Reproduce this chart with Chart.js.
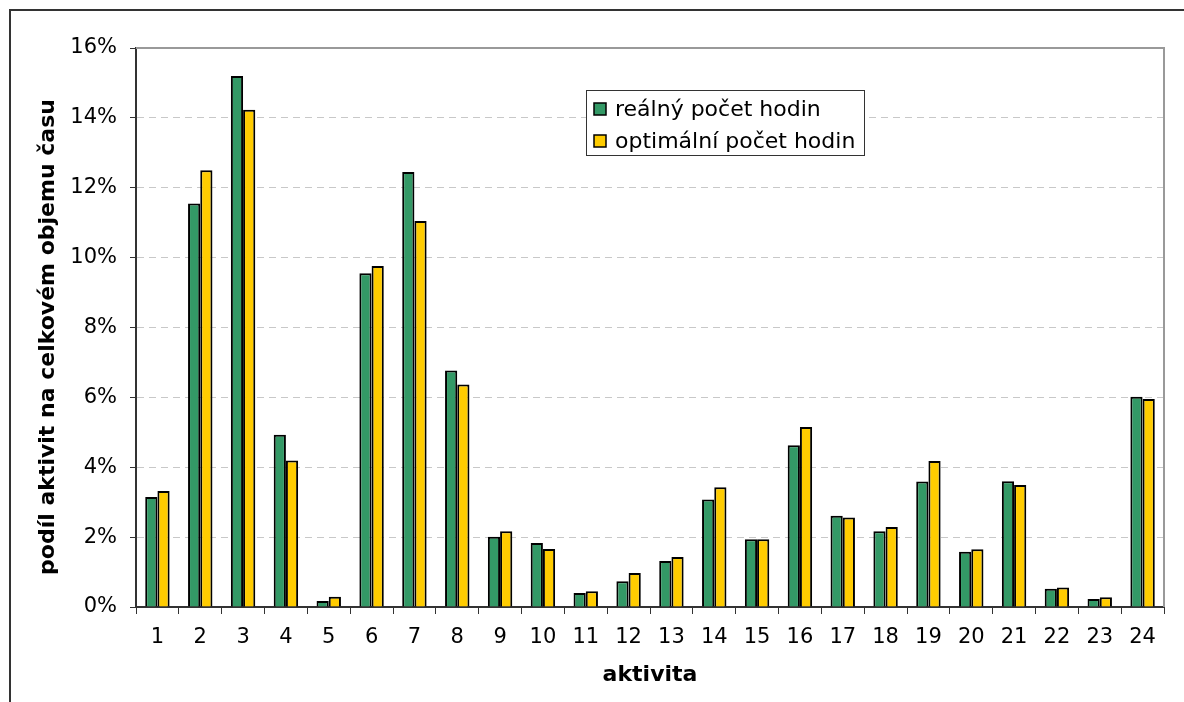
<!DOCTYPE html>
<html>
<head>
<meta charset="utf-8">
<script src="https://cdn.jsdelivr.net/npm/chart.js@4/dist/chart.umd.min.js"></script>
<style>
  html, body { margin: 0; padding: 0; background: #fff; }
  #wrap { width: 1184px; height: 702px; position: relative; }
</style>
</head>
<body>
<div id="wrap"><canvas id="chart" width="1184" height="702"></canvas></div>
<script>
// data (% of total time)
const activities = ['1', '2', '3', '4', '5', '6', '7', '8', '9', '10', '11', '12',
    '13', '14', '15', '16', '17', '18', '19', '20', '21', '22', '23', '24'];
const realHours = [3.15, 11.55, 15.2, 4.93, 0.17, 9.55, 12.45, 6.77, 2.01, 1.83, 0.4, 0.74,
    1.32, 3.08, 1.94, 4.63, 2.61, 2.17, 3.59, 1.58, 3.6, 0.52, 0.23, 6.02];
const optimalHours = [3.32, 12.5, 14.23, 4.19, 0.29, 9.76, 11.05, 6.37, 2.17, 1.66, 0.45, 0.97,
    1.43, 3.43, 1.94, 5.15, 2.56, 2.29, 4.18, 1.65, 3.49, 0.56, 0.28, 5.95];
const seriesNames = ['reálný počet hodin', 'optimální počet hodin'];
const yTitle = 'podíl aktivit na celkovém objemu času';
const yMax = 16;
const yStep = 2;

const FONT = 'DejaVu Sans, Verdana, sans-serif';

// white background, outer frame, plot border and the y title
const framePlugin = {
    id: 'frame',
    beforeDraw(chart) {
        const c = chart.ctx;
        c.save();
        c.fillStyle = '#fff';
        c.fillRect(0, 0, chart.width, chart.height);
        c.strokeStyle = '#333';
        c.lineWidth = 2;
        c.beginPath();
        c.moveTo(10, chart.height);
        c.lineTo(10, 10);
        c.lineTo(chart.width, 10);
        c.stroke();
        // y axis title, a bit below the plot centre like the original
        c.translate(48, 337);
        c.rotate(-Math.PI / 2);
        c.font = 'bold 22px ' + FONT;
        c.fillStyle = '#000';
        c.textAlign = 'center';
        c.textBaseline = 'middle';
        c.fillText(yTitle, 0, 0);
        c.restore();
    },
    beforeDatasetsDraw(chart) {
        const a = chart.chartArea;
        const c = chart.ctx;
        c.save();
        c.strokeStyle = '#999';
        c.lineWidth = 2;
        c.beginPath();
        c.moveTo(a.left, a.top);
        c.lineTo(a.right, a.top);
        c.lineTo(a.right, a.bottom);
        c.stroke();
        c.restore();
    }
};

// legend box inside the plot area
const boxLegend = {
    id: 'boxLegend',
    afterDatasetsDraw(chart) {
        const c = chart.ctx;
        const x = 586, y = 90, w = 278, h = 65;
        c.save();
        c.fillStyle = '#fff';
        c.fillRect(x, y, w, h);
        c.strokeStyle = '#333';
        c.lineWidth = 1;
        c.strokeRect(x + 0.5, y + 0.5, w, h);
        c.font = '22px ' + FONT;
        c.textBaseline = 'middle';
        chart.data.datasets.forEach((ds, i) => {
            const cy = 109 + i * 32;
            c.fillStyle = ds.backgroundColor;
            c.fillRect(594, cy - 6, 12, 12);
            c.strokeStyle = '#000';
            c.lineWidth = 1.5;
            c.strokeRect(594, cy - 6, 12, 12);
            c.fillStyle = '#000';
            c.fillText(ds.label, 615, cy + 1);
        });
        c.restore();
    }
};

new Chart(document.getElementById('chart'), {
    type: 'bar',
    data: {
        labels: activities,
        datasets: [
            {
                label: seriesNames[0],
                data: realHours,
                backgroundColor: '#339966',
                borderColor: '#000',
                borderWidth: 2,
                categoryPercentage: 0.57,
                barPercentage: 1.0
            },
            {
                label: seriesNames[1],
                data: optimalHours,
                backgroundColor: '#FFCC00',
                borderColor: '#000',
                borderWidth: 2,
                categoryPercentage: 0.57,
                barPercentage: 1.0
            }
        ]
    },
    options: {
        responsive: false,
        animation: false,
        layout: { padding: { top: 48, right: 20, bottom: 12, left: 0 } },
        plugins: {
            legend: { display: false },
            tooltip: { enabled: false }
        },
        scales: {
            x: {
                grid: {
                    offset: true,
                    drawOnChartArea: false,
                    drawTicks: true,
                    tickLength: 7,
                    tickColor: '#333',
                    tickWidth: 1
                },
                border: { color: '#333', width: 2 },
                ticks: {
                    color: '#000',
                    font: { family: FONT, size: 21 },
                    padding: 11,
                    maxRotation: 0
                },
                title: {
                    display: true,
                    text: 'aktivita',
                    color: '#000',
                    font: { family: FONT, size: 22, weight: 'bold' },
                    padding: { top: 0, bottom: 2 }
                },
                afterFit(scale) { scale.height = 83; }
            },
            y: {
                min: 0,
                max: yMax,
                ticks: {
                    stepSize: yStep,
                    color: '#000',
                    font: { family: FONT, size: 21 },
                    padding: 13,
                    callback: v => v + '%'
                },
                grid: {
                    color: ctx => (ctx.tick && (ctx.tick.value === 0 || ctx.tick.value === yMax)) ? 'rgba(0,0,0,0)' : '#c8c8c8',
                    lineWidth: 1,
                    drawTicks: true,
                    tickLength: 6,
                    tickColor: '#333',
                    tickWidth: 1,
                    tickBorderDash: []
                },
                border: { color: '#333', width: 2, dash: [7, 5] },
                title: { display: false },
                afterFit(scale) { scale.width = 136; }
            }
        }
    },
    plugins: [framePlugin, boxLegend]
});
</script>
</body>
</html>
